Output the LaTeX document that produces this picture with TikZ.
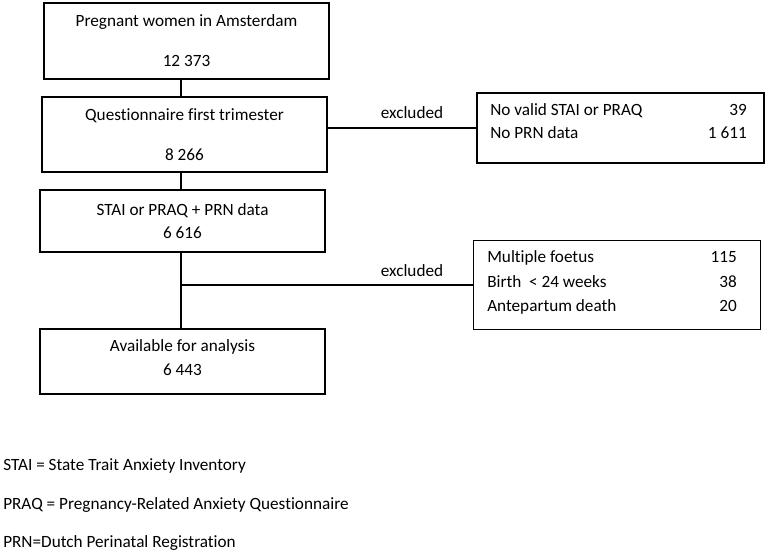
\documentclass[tikz,border=0pt]{standalone}
\usepackage{fontspec}
\setmainfont{Carlito}[Ligatures=CommonOff]
\tikzset{
    flowbox/.style = {draw, line width=0.9pt, minimum width=213.75pt, minimum height=#1, inner sep=0pt, align=center},
    exbox/.style = {draw, line width=0.9pt, minimum width=215.25pt, minimum height=#1, inner sep=0pt},
    row/.style = {inner sep=0pt, anchor=base west},
    num/.style = {inner sep=0pt, anchor=base east},
    link/.style = {line width=0.9pt}
}
\begin{document}
\begin{tikzpicture}[x=0.75pt, y=-0.75pt, font=\fontsize{12.9}{15.5}\selectfont]
    \useasboundingbox (0,0) rectangle (767,556);

    % main column
    \node[flowbox=57pt] (women) at (186.5,41) {Pregnant women in Amsterdam\\[14.5pt]12 373};
    \node[flowbox=56.25pt] (quest) at (184.5,134.5) {Questionnaire first trimester\\[14.5pt]8 266};
    \node[flowbox=46.5pt] (stai) at (182.5,221) {STAI or PRAQ + PRN data\\[1.8pt]6 616};
    \node[flowbox=48.75pt, text depth=5.5pt] (avail) at (182.5,361.5) {Available for analysis\\[2.5pt]6 443};
    \coordinate (spine) at (181,0);

    \draw[link] (women.south -| spine) -- (quest.north -| spine);
    \draw[link] (quest.south -| spine) -- (stai.north -| spine);
    \draw[link] (stai.south -| spine) -- (avail.north -| spine);

    % first exclusion
    \node[exbox=52.5pt] (excl1) at (620.5,128) {};
    \node[row] (novalid) at (490,116) {No valid STAI or PRAQ};
    \node[num] at (747,116) {39};
    \node[row] (noprn) at (490,139) {No PRN data};
    \node[num] at (747,139) {1 611};
    \draw[link] (quest.east |- excl1.west) -- (excl1.west);
    \node (lab1) at (412,113) {excluded};

    % second exclusion
    \node[exbox=66.75pt] (excl2) at (617,285) {};
    \node[row] (multi) at (487,262) {Multiple foetus};
    \node[num] at (737,262) {115};
    \node[row] (birth) at (487,287) {Birth~~< 24 weeks};
    \node[num] at (737,287) {38};
    \node[row] (death) at (487,311) {Antepartum death};
    \node[num] at (737,311) {20};
    \draw[link] (excl2.west -| spine) -- (excl2.west);
    \node (lab2) at (412,271) {excluded};

    % abbreviations
    \node[row] (staidef) at (3,470) {STAI = State Trait Anxiety Inventory};
    \node[row] (praqdef) at (3,509) {PRAQ = Pregnancy-Related Anxiety Questionnaire};
    \node[row] (prndef) at (3,547) {PRN=Dutch Perinatal Registration};
\end{tikzpicture}
\end{document}
